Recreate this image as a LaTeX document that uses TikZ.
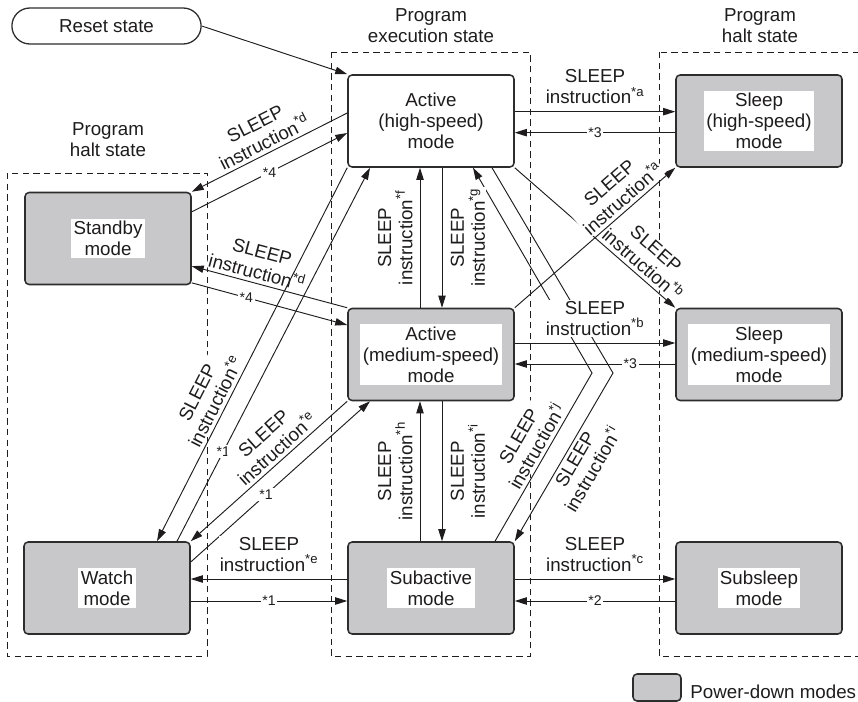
\documentclass[tikz,border=0pt]{standalone}
\usepackage{fontspec}
\setmainfont{Liberation Sans}
\usepackage{xcolor}
\usetikzlibrary{
  arrows.meta,
  shapes.misc
}
\definecolor{pdgray}{RGB}{200,200,202}
\definecolor{ink}{RGB}{30,28,29}
\definecolor{boxline}{RGB}{45,45,45}

\begin{document}
\begin{tikzpicture}[
        x=0.03cm, y=-0.03cm,
        >={Triangle[length=3.6mm, width=2.2mm]},
        color=ink,
        line width=0.8pt,
        font=\fontsize{16}{18}\selectfont,
        mode/.style={draw=boxline, line width=1.3pt, rounded corners=3.5pt, minimum width=4.98cm, minimum height=2.76cm},
        pdmode/.style={mode, fill=pdgray},
        modetext/.style={fill=white, inner sep=2pt, align=center},
        region/.style={line width=0.8pt, dash pattern=on 1.9mm off 1.3mm},
        lbl/.style={fill=white, inner sep=1pt, align=center},
        tag/.style={fill=white, inner sep=1.5pt, font=\fontsize{12}{14}\selectfont}
    ]
        \useasboundingbox (0,0) rectangle (858,702);

        % States (dashed regions)
        \draw[region] (7,173) rectangle (207,656);
        \draw[region] (331,52) rectangle (530,656);
        \draw[region] (659,52) rectangle (875,656);
        \node[align=center] (lhalt) at (108,140) {Program\\halt state};
        \node[align=center] (exec) at (431,26) {Program\\execution state};
        \node[align=center] (rhalt) at (760,26) {Program\\halt state};

        % Modes
        \node[draw=boxline, line width=1.1pt, rounded rectangle, fill=white, minimum width=5.91cm, minimum height=1.08cm] (reset) at (106.5,26) {Reset state};
        \node[mode, fill=white, align=center] (ah) at (431,121) {Active\\(high-speed)\\mode};
        \node[pdmode] (sh) at (759,121) {};
        \node[modetext] (sh-t) at (sh) {Sleep\\(high-speed)\\mode};
        \node[pdmode] (sb) at (108,238.5) {};
        \node[modetext] (sb-t) at (sb) {Standby\\mode};
        \node[pdmode] (am) at (431,354.5) {};
        \node[modetext] (am-t) at (am) {Active\\(medium-speed)\\mode};
        \node[pdmode] (sm) at (759,354.5) {};
        \node[modetext] (sm-t) at (sm) {Sleep\\(medium-speed)\\mode};
        \node[pdmode] (wm) at (107,588) {};
        \node[modetext] (wm-t) at (wm) {Watch\\mode};
        \node[pdmode] (sa) at (431,588) {};
        \node[modetext] (sa-t) at (sa) {Subactive\\mode};
        \node[pdmode] (ss) at (759,588) {};
        \node[modetext] (ss-t) at (ss) {Subsleep\\mode};

        % Legend
        \node[pdmode, minimum width=1.44cm, minimum height=0.81cm] (key) at (657,687.5) {};
        \node[anchor=base west, inner sep=0pt] (key-t) at (690,698) {Power-down modes};

        % Reset
        \draw[->] (reset.east) -- (ah.north west);

        % Zig-zag between active (high-speed) and subactive
        \coordinate (zj) at (592,373);
        \coordinate (zi) at (613,373);
        \draw[->] ([xshift=1.92cm]sa.north) -- node[pos=0.53, above=2pt, sloped, lbl] {SLEEP\\instruction\textsuperscript{*j}} (zj) -- ([xshift=1.26cm]ah.south);
        \draw[->] ([xshift=1.83cm]ah.south) -- (zi) -- node[pos=0.48, below=2pt, sloped, lbl] {SLEEP\\instruction\textsuperscript{*i}} (sa.north east);

        % Right column
        \draw[->] ([yshift=0.28cm]ah.east) -- node[above=5pt, lbl] {SLEEP\\instruction\textsuperscript{*a}} ([yshift=0.28cm]sh.west);
        \draw[->] ([yshift=-0.35cm]sh.west) -- node[tag] {*3} ([yshift=-0.35cm]ah.east);
        \draw[->] ([yshift=0.345cm]am.east) -- node[above=5pt, lbl] {SLEEP\\instruction\textsuperscript{*b}} ([yshift=0.345cm]sm.west);
        \draw[->] ([yshift=-0.285cm]sm.west) -- node[pos=0.28, tag] {*3} ([yshift=-0.285cm]am.east);
        \draw[->] ([yshift=0.27cm]sa.east) -- node[above=5pt, lbl] {SLEEP\\instruction\textsuperscript{*c}} ([yshift=0.27cm]ss.west);
        \draw[->] ([yshift=-0.39cm]ss.west) -- node[tag] {*2} ([yshift=-0.39cm]sa.east);
        \draw[->] (ah.south east) -- node[pos=0.75, above=2pt, sloped, lbl] {SLEEP\\instruction\textsuperscript{*b}} (sm.north west);
        \draw[->] (am.north east) -- node[pos=0.72, above=2pt, sloped, lbl] {SLEEP\\instruction\textsuperscript{*a}} (sh.south west);

        % Centre column
        \draw[->] ([xshift=-0.33cm]am.north) -- node[xshift=-5pt, rotate=90, anchor=south, lbl] {SLEEP\\instruction\textsuperscript{*f}} ([xshift=-0.33cm]ah.south);
        \draw[->] ([xshift=0.33cm]ah.south) -- node[xshift=6pt, rotate=90, anchor=north, lbl] {SLEEP\\instruction\textsuperscript{*g}} ([xshift=0.33cm]am.north);
        \draw[->] ([xshift=-0.33cm]sa.north) -- node[xshift=-5pt, rotate=90, anchor=south, lbl] {SLEEP\\instruction\textsuperscript{*h}} ([xshift=-0.33cm]am.south);
        \draw[->] ([xshift=0.33cm]am.south) -- node[xshift=6pt, rotate=90, anchor=north, lbl] {SLEEP\\instruction\textsuperscript{*i}} ([xshift=0.33cm]sa.north);

        % Left column
        \draw[->] ([yshift=0.24cm]ah.west) -- node[above=2pt, sloped, lbl] {SLEEP\\instruction\textsuperscript{*d}} (sb.north east);
        \draw[->] ([yshift=0.8cm]sb.east) -- node[tag] {*4} ([yshift=-0.36cm]ah.west);
        \draw[->] (am.north west) -- node[pos=0.6, above=2pt, sloped, lbl] {SLEEP\\instruction\textsuperscript{*d}} ([yshift=-0.83cm]sb.east);
        \draw[->] ([yshift=-1.33cm]sb.east) -- node[pos=0.35, tag] {*4} ([yshift=0.885cm]am.west);
        \draw[->] (ah.south west) -- node[pos=0.64, above=2pt, sloped, lbl] {SLEEP\\instruction\textsuperscript{*e}} ([xshift=1.5cm]wm.north);
        \draw[->] ([xshift=2.1cm]wm.north) -- node[pos=0.24, tag] {*1} ([xshift=-1.83cm]ah.south);
        \draw[->] (am.south west) -- node[pos=0.4, above=2pt, sloped, lbl] {SLEEP\\instruction\textsuperscript{*e}} (wm.north east);
        \draw[->] ([yshift=0.78cm]wm.east) -- node[pos=0.42, tag] {*1} ([xshift=-1.83cm]am.south);
        \draw[->] ([yshift=0.27cm]sa.west) -- node[above=5pt, lbl] {SLEEP\\instruction\textsuperscript{*e}} ([yshift=0.27cm]wm.east);
        \draw[->] ([yshift=-0.39cm]wm.east) -- node[tag] {*1} ([yshift=-0.39cm]sa.west);
    \end{tikzpicture}
\end{document}
